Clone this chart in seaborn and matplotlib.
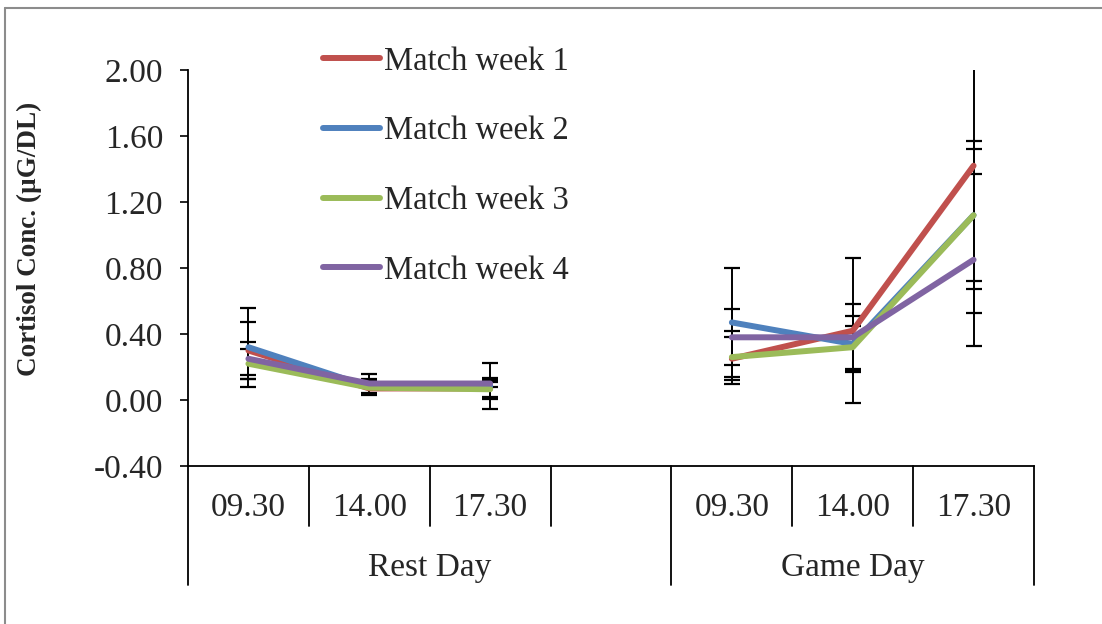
import matplotlib
matplotlib.use("Agg")
import matplotlib.pyplot as plt
from matplotlib.lines import Line2D
import seaborn as sns
import numpy as np
import pandas as pd

# ---- data ----
days = ["Rest Day", "Game Day"]
times = ["09.30", "14.00", "17.30"]
series = ["Match week 1", "Match week 2", "Match week 3", "Match week 4"]
# values: Rest 09.30, 14.00, 17.30, Game 09.30, 14.00, 17.30
week1 = [0.30, 0.07, 0.07, 0.25, 0.42, 1.42]
week2 = [0.32, 0.08, 0.085, 0.47, 0.34, 1.12]
week3 = [0.22, 0.075, 0.065, 0.26, 0.32, 1.12]
week4 = [0.25, 0.10, 0.10, 0.38, 0.38, 0.85]
err1 = [0.17, 0.035, 0.065, 0.13, 0.44, 0.89]
err2 = [0.24, 0.05, 0.14, 0.33, 0.17, 0.45]
err3 = [0.09, 0.04, 0.045, 0.16, 0.13, 0.40]
err4 = [0.10, 0.055, 0.02, 0.17, 0.20, 0.52]
yticks = [-0.40, 0.00, 0.40, 0.80, 1.20, 1.60, 2.00]
colors = ["#C0504D", "#4F81BD", "#9BBB59", "#8064A2"]

values = [week1, week2, week3, week4]
errors = [err1, err2, err3, err4]

# category slots: 3 rest-day times, one blank slot, 3 game-day times
slot_labels = times + [""] + times
positions = [0, 1, 2, 4, 5, 6]

rows = []
for s, vals, errs in zip(series, values, errors):
    for i, (v, e) in enumerate(zip(vals, errs)):
        rows.append({"series": s, "day": days[i // 3], "pos": positions[i],
                     "value": v, "err": e})
df = pd.DataFrame(rows)

sns.set_theme(style="white")
plt.rcParams["font.family"] = ["Liberation Serif", "DejaVu Serif"]

fig = plt.figure(figsize=(11.02, 6.24), dpi=100)
L, R, T, B = 188, 1034, 70, 466
W, H = 1102, 624
ax = fig.add_axes([L / W, 1 - B / H, (R - L) / W, (B - T) / H])

# error bars first (under lines)
for s in series:
    d = df[df.series == s]
    ax.errorbar(d.pos, d.value, yerr=d.err, fmt="none", ecolor="black",
                elinewidth=1.4, capsize=5.5, capthick=1.6, zorder=1)

pal = dict(zip(series, colors))
for k, dname in enumerate(days):
    sns.lineplot(data=df[df.day == dname], x="pos", y="value", hue="series",
                 palette=pal, linewidth=4.3, ax=ax, legend=(k == 0),
                 sort=False, zorder=3, solid_capstyle="round")

ax.set_xlim(-0.5, 6.5)
ax.set_ylim(-0.40, 2.00)
ax.set_yticks(yticks)
ax.set_yticklabels([f"{t:.2f}" for t in yticks], fontsize=24)
ax.tick_params(axis="y", direction="out", length=6, width=1.2, color="black",
               pad=12, left=True)
ax.set_xticks([])
ax.set_xlabel("")
ax.set_ylabel("Cortisol Conc. (µG/DL)", fontsize=19.5, fontweight="bold")
ax.yaxis.set_label_coords((42 - L) / (R - L), 0.573)

for sp in ["top", "right"]:
    ax.spines[sp].set_visible(False)
for sp in ["left", "bottom"]:
    ax.spines[sp].set_color("black")
    ax.spines[sp].set_linewidth(1.3)

# category axis: labels and separators
trans = ax.get_xaxis_transform()
short_y = -(526 - B) / (B - T)
long_y = -(585 - B) / (B - T)
for i, lab in enumerate(slot_labels):
    ax.text(i, -(508 - B) / (B - T), lab, transform=trans, ha="center",
            va="center", fontsize=24, clip_on=False)
for xb in [0.5, 1.5, 2.5, 4.5, 5.5]:
    ax.plot([xb, xb], [0, short_y], transform=trans, color="black", lw=1.3,
            clip_on=False)
for xb in [-0.5, 3.5, 6.5]:
    ax.plot([xb, xb], [0, long_y], transform=trans, color="black", lw=1.3,
            clip_on=False)
group_centers = [1.5, 5.0]
for c, dname in zip(group_centers, days):
    ax.text(c, -(568 - B) / (B - T), dname, transform=trans, ha="center",
            va="center", fontsize=24, clip_on=False)

# legend
leg = ax.legend(loc="upper left", bbox_to_anchor=(307 / W, 1 - 30 / H),
                bbox_transform=fig.transFigure, frameon=False, fontsize=23.5,
                handlelength=1.75, handletextpad=0.12, labelspacing=1.2,
                borderpad=0, title=None)
for h in leg.get_lines():
    h.set_linewidth(4.3)

# outer chart border (top and left visible)
fig.add_artist(Line2D([5 / W, 5 / W], [0, 1 - 8 / H], color="#8c8c8c", lw=1.5))
fig.add_artist(Line2D([5 / W, 1], [1 - 8 / H, 1 - 8 / H], color="#8c8c8c", lw=1.5))

fig.savefig("out.png", dpi=100, facecolor="white")
